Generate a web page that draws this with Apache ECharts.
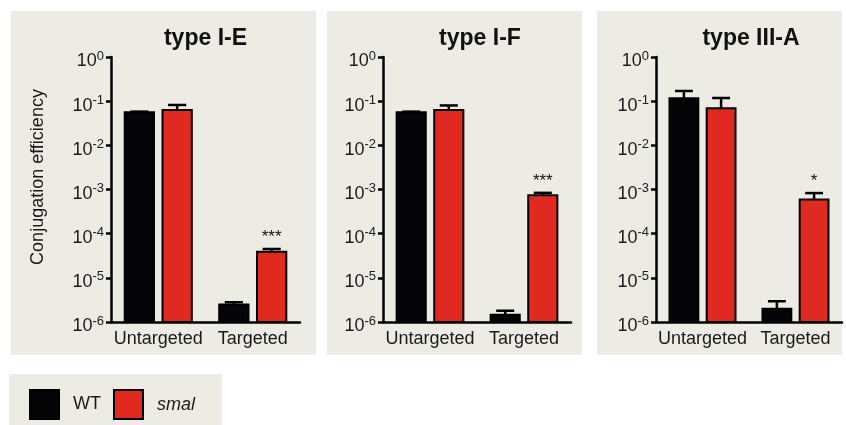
<!DOCTYPE html>
<html>
<head>
<meta charset="utf-8">
<script src="https://cdn.jsdelivr.net/npm/echarts@6/dist/echarts.min.js"></script>
<style>
  html, body { margin: 0; padding: 0; background: #fff; }
  #chart { width: 846px; height: 425px; }
</style>
</head>
<body>
<div id="chart"></div>
<script>
var categories = ['Untargeted', 'Targeted'];
var panelTitles = ['type I-E', 'type I-F', 'type III-A'];
// mean values per panel: [Untargeted, Targeted]
var wtMean = [[0.056, 2.5e-6], [0.056, 1.45e-6], [0.117, 2.0e-6]];
var wtErr = [[0.058, 2.8e-6], [0.058, 1.8e-6], [0.17, 2.95e-6]];
var smalMean = [[0.063, 3.9e-5], [0.063, 7.4e-4], [0.069, 5.9e-4]];
var smalErr = [[0.082, 4.5e-5], [0.08, 8.4e-4], [0.118, 8.3e-4]];
var smalStars = [['', '***'], ['', '***'], ['', '*']];

var FONT = '"Liberation Sans", Arial, Helvetica, sans-serif';
var PANEL_BG = '#ecece4';
var RED = '#e02a20';

var myChart = echarts.init(document.getElementById('chart'));

var grids = [
    { left: 111, top: 57, width: 189, height: 265 },
    { left: 383, top: 57, width: 188, height: 265 },
    { left: 656, top: 57, width: 186, height: 265 }
];
var titleShift = [-5, -2, -3];

function barRenderer(side, stars) {
    return function (params, api) {
        var i = api.value(0);
        var top = api.coord([i, api.value(1)]);
        var err = api.coord([i, api.value(2)]);
        var base = api.coord([i, 1e-6]);
        var band = api.size([1, 0])[0];
        var w = band * 0.31;
        var x = top[0] + side * band * 0.2;
        var cap = w * 0.62;
        var children = [
            { type: 'line', shape: { x1: x, y1: top[1], x2: x, y2: err[1] },
              style: { stroke: '#000', lineWidth: 2.5 } },
            { type: 'line', shape: { x1: x - cap / 2, y1: err[1], x2: x + cap / 2, y2: err[1] },
              style: { stroke: '#000', lineWidth: 2.5 } },
            { type: 'rect', shape: { x: x - w / 2, y: top[1], width: w, height: base[1] - top[1] },
              style: api.style({ stroke: '#000', lineWidth: 2 }) }
        ];
        var s = stars ? stars[params.dataIndex] : '';
        if (s) {
            children.push({ type: 'text', style: {
                text: s, x: x, y: err[1] - 3, align: 'center', verticalAlign: 'bottom',
                font: '17px ' + FONT, fill: '#111' } });
        }
        return { type: 'group', children: children };
    };
}

function supLabel(v) {
    var e = Math.round(Math.log10(v));
    return '{b|10}{s|' + e + '}';
}

var xAxes = [], yAxes = [], series = [], titles = [];
grids.forEach(function (g, k) {
    xAxes.push({
        gridIndex: k, type: 'category', data: categories,
        axisLine: { lineStyle: { color: '#000', width: 2.5 } },
        axisTick: { alignWithLabel: true, length: 5, lineStyle: { color: '#000', width: 2.5 } },
        axisLabel: { interval: 0, color: '#1a1a1a', fontSize: 18, fontFamily: FONT, margin: 8 },
        splitLine: { show: false }
    });
    yAxes.push({
        gridIndex: k, type: 'log', logBase: 10, min: 1e-6, max: 1, splitNumber: 6,
        axisLine: { show: true, lineStyle: { color: '#000', width: 2.5 } },
        axisTick: { show: true, length: 5, lineStyle: { color: '#000', width: 2.5 } },
        splitLine: { show: false },
        minorTick: { show: false },
        axisLabel: {
            margin: 7, formatter: supLabel, padding: [6, 0, 0, 0],
            rich: {
                b: { fontSize: 18, fontFamily: FONT, color: '#1a1a1a', lineHeight: 21, verticalAlign: 'bottom' },
                s: { fontSize: 13, fontFamily: FONT, color: '#1a1a1a', lineHeight: 13, verticalAlign: 'top' }
            }
        }
    });
    titles.push({
        text: panelTitles[k], left: g.left + g.width / 2 + titleShift[k], top: 22, textAlign: 'center',
        textStyle: { fontSize: 23, fontWeight: 'bold', fontFamily: FONT, color: '#111' }
    });
    series.push({
        name: 'WT', type: 'custom', xAxisIndex: k, yAxisIndex: k,
        itemStyle: { color: '#050508', borderColor: '#000', borderWidth: 2 },
        renderItem: barRenderer(-1, null),
        encode: { x: 0, y: 1 },
        data: categories.map(function (c, i) { return [i, wtMean[k][i], wtErr[k][i]]; })
    });
    series.push({
        name: 'smal', type: 'custom', xAxisIndex: k, yAxisIndex: k,
        itemStyle: { color: RED, borderColor: '#000', borderWidth: 2 },
        renderItem: barRenderer(1, smalStars[k]),
        encode: { x: 0, y: 1 },
        data: categories.map(function (c, i) { return [i, smalMean[k][i], smalErr[k][i]]; })
    });
});

var option = {
    backgroundColor: '#fff',
    animation: false,
    title: titles,
    grid: grids,
    xAxis: xAxes,
    yAxis: yAxes,
    legend: {
        data: ['WT', 'smal'], left: 24, top: 384, icon: 'rect',
        itemWidth: 29, itemHeight: 29, itemGap: 12,
        itemStyle: { borderColor: '#000', borderWidth: 2 },
        formatter: function (name) { return name === 'smal' ? '{i|smal}' : '{n|' + name + '}'; },
        textStyle: {
            fontSize: 18, fontFamily: FONT, color: '#1a1a1a',
            rich: {
                n: { fontSize: 18, fontFamily: FONT, color: '#1a1a1a', padding: [0, 0, 0, 9] },
                i: { fontSize: 18, fontFamily: FONT, color: '#1a1a1a', fontStyle: 'italic', padding: [0, 0, 0, 9] }
            }
        }
    },
    graphic: [
        { type: 'rect', z: -10, shape: { x: 11, y: 11, width: 305, height: 344 }, style: { fill: PANEL_BG } },
        { type: 'rect', z: -10, shape: { x: 327, y: 11, width: 255, height: 344 }, style: { fill: PANEL_BG } },
        { type: 'rect', z: -10, shape: { x: 597, y: 11, width: 245, height: 344 }, style: { fill: PANEL_BG } },
        { type: 'rect', z: -10, shape: { x: 9, y: 374, width: 213, height: 51 }, style: { fill: PANEL_BG } },
        { type: 'text', x: 38, y: 177, rotation: Math.PI / 2,
          style: { text: 'Conjugation efficiency', font: '18px ' + FONT, fill: '#1a1a1a',
                   align: 'center', verticalAlign: 'middle' } }
    ],
    series: series
};
myChart.setOption(option);

window.onresize = function () {
    myChart.resize();
};
</script>
</body>
</html>
